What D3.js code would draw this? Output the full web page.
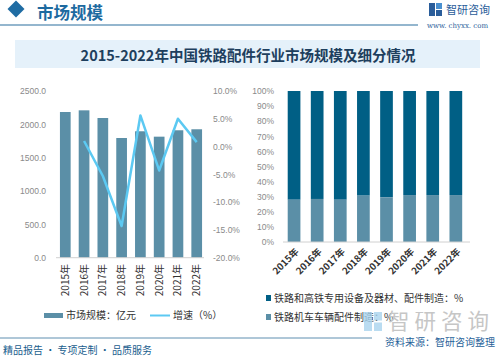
<!DOCTYPE html>
<html><head><meta charset="utf-8">
<script src="https://cdn.jsdelivr.net/npm/d3@7/dist/d3.min.js"></script>
<style>html,body{margin:0;padding:0;background:#fff;}svg{display:block;}</style>
</head><body>
<script>
const years = ["2015年","2016年","2017年","2018年","2019年","2020年","2021年","2022年"];
const marketSize = [2185, 2210, 2095, 1795, 1896, 1815, 1911, 1926];
const growth = [null, 1.0, -5.3, -14.3, 5.6, -4.3, 5.0, 0.8];
const shareParts = [28.0, 28.5, 28.0, 30.7, 29.6, 31.1, 31.1, 31.1];
const leftTicks = [0, 500, 1000, 1500, 2000, 2500];
const rightTicks = [-20, -15, -10, -5, 0, 5, 10];
const pctTicks = [0,10,20,30,40,50,60,70,80,90,100];
const title = "2015-2022年中国铁路配件行业市场规模及细分情况";
const legendLeft = ["市场规模：亿元", "增速（%）"];
const legendRight = ["铁路和高铁专用设备及器材、配件制造：%", "铁路机车车辆配件制造：%"];

const W = 500, H = 358;
const FONT = "'Noto Sans CJK SC','Noto Sans',sans-serif";
const svg = d3.select("body").append("svg").attr("width", W).attr("height", H)
  .style("font-family", FONT);

// header
svg.append("path").attr("d", "M16,0.5 L24.5,9 L16,17.5 L7.5,9 Z").attr("fill", "#1f6ca3");
svg.append("text").attr("x", 37).attr("y", 19).attr("font-size", 16.5).attr("font-weight", "bold")
  .attr("fill", "#1d6aa0").text("市场规模");
svg.append("line").attr("x1", 0).attr("x2", 418).attr("y1", 25).attr("y2", 25)
  .attr("stroke", "#2b6f9e").attr("stroke-width", 1.2);
// logo
const logo = svg.append("g").attr("fill", "#2a5d9a");
logo.append("rect").attr("x", 429).attr("y", 3).attr("width", 6).attr("height", 13);
logo.append("rect").attr("x", 436).attr("y", 3).attr("width", 6).attr("height", 6).attr("fill", "#4a90d0");
logo.append("rect").attr("x", 436).attr("y", 10).attr("width", 6).attr("height", 6);
svg.append("text").attr("x", 446).attr("y", 14).attr("font-size", 11).attr("fill", "#2a5d9a").text("智研咨询");
svg.append("text").attr("x", 427).attr("y", 28).attr("font-size", 7).attr("fill", "#2a5d9a")
  .attr("font-family", "'DejaVu Serif',serif").text("www. chyxx. com");

// title band
svg.append("rect").attr("x", 15).attr("y", 40).attr("width", 465).attr("height", 28).attr("fill", "#e5f1fa");
svg.append("text").attr("x", 248).attr("y", 61).attr("text-anchor", "middle").attr("font-size", 14.5)
  .attr("font-weight", "bold").attr("fill", "#1e3f5e").text(title);

// ---------- left chart ----------
const xL = d3.scalePoint().domain(years).range([55.9, 206.1]).padding(0.5);
const yL = d3.scaleLinear().domain([0, 2500]).range([257.7, 91]);
const yR = d3.scaleLinear().domain([-20, 10]).range([257.7, 91]);
const bwL = 10.7;

svg.append("g").selectAll("rect").data(marketSize).join("rect")
  .attr("x", (d, i) => xL(years[i]) - bwL / 2).attr("y", d => yL(d))
  .attr("width", bwL).attr("height", d => yL(0) - yL(d)).attr("fill", "#5b8fa7");

const axL = svg.append("g").attr("transform", "translate(46,0)")
  .call(d3.axisLeft(yL).tickValues(leftTicks).tickFormat(d3.format(".1f")).tickSize(0).tickPadding(0));
axL.select(".domain").remove();
axL.selectAll("text").attr("font-size", 8.5).attr("fill", "#8a8a8a").attr("font-family", "'Liberation Sans',Arial,sans-serif");

const axR = svg.append("g").attr("transform", "translate(213,0)")
  .call(d3.axisRight(yR).tickValues(rightTicks).tickFormat(d => d.toFixed(1) + "%").tickSize(0).tickPadding(0));
axR.select(".domain").remove();
axR.selectAll("text").attr("font-size", 8.5).attr("fill", "#8a8a8a").attr("font-family", "'Liberation Sans',Arial,sans-serif");

svg.append("line").attr("x1", 56).attr("x2", 204).attr("y1", yL(0)).attr("y2", yL(0))
  .attr("stroke", "#d0d0d0").attr("stroke-width", 1);

const gData = growth.map((g, i) => ({ y: years[i], g })).filter(d => d.g !== null);
svg.append("path").datum(gData)
  .attr("d", d3.line().x(d => xL(d.y)).y(d => yR(d.g)))
  .attr("fill", "none").attr("stroke", "#5cc9f2").attr("stroke-width", 2.5).attr("stroke-linejoin", "round");

svg.append("g").selectAll("text").data(years).join("text")
  .attr("transform", d => `translate(${xL(d)},264) rotate(-90)`)
  .attr("text-anchor", "end").attr("dy", "0.35em").attr("font-size", 10).attr("fill", "#333")
  .text(d => d);

// left legend
svg.append("rect").attr("x", 44).attr("y", 313).attr("width", 19).attr("height", 5).attr("fill", "#5b8fa7");
svg.append("text").attr("x", 66).attr("y", 319).attr("font-size", 10).attr("fill", "#333").text(legendLeft[0]);
svg.append("line").attr("x1", 150).attr("x2", 170).attr("y1", 315.5).attr("y2", 315.5)
  .attr("stroke", "#5cc9f2").attr("stroke-width", 2);
svg.append("text").attr("x", 173).attr("y", 319).attr("font-size", 10).attr("fill", "#333").text(legendLeft[1]);

// ---------- right chart ----------
const xP = d3.scalePoint().domain(years).range([282.5, 467.4]).padding(0.5);
const yP = d3.scaleLinear().domain([0, 100]).range([242, 91]);
const bwP = 12.7;

svg.append("g").selectAll("rect").data(shareParts).join("rect")
  .attr("x", (d, i) => xP(years[i]) - bwP / 2).attr("y", yP(100))
  .attr("width", bwP).attr("height", d => yP(d) - yP(100)).attr("fill", "#005f85");
svg.append("g").selectAll("rect").data(shareParts).join("rect")
  .attr("x", (d, i) => xP(years[i]) - bwP / 2).attr("y", d => yP(d))
  .attr("width", bwP).attr("height", d => yP(0) - yP(d)).attr("fill", "#5b8fa7");

const axP = svg.append("g").attr("transform", "translate(274,0)")
  .call(d3.axisLeft(yP).tickValues(pctTicks).tickFormat(d => d + "%").tickSize(0).tickPadding(0));
axP.select(".domain").remove();
axP.selectAll("text").attr("font-size", 8.5).attr("fill", "#8a8a8a").attr("font-family", "'Liberation Sans',Arial,sans-serif");

svg.append("line").attr("x1", 283).attr("x2", 470).attr("y1", yP(0)).attr("y2", yP(0))
  .attr("stroke", "#d0d0d0").attr("stroke-width", 1);

svg.append("g").selectAll("text").data(years).join("text")
  .attr("transform", d => `translate(${xP(d) + 3},250) rotate(-45)`)
  .attr("text-anchor", "end").attr("dy", "0.35em").attr("font-size", 9.5).attr("font-weight", "bold").attr("fill", "#333")
  .text(d => d);

// right legend
svg.append("rect").attr("x", 266).attr("y", 295).attr("width", 5).attr("height", 6).attr("fill", "#005f85");
svg.append("text").attr("x", 274).attr("y", 302).attr("font-size", 10).attr("fill", "#333").text(legendRight[0]);
svg.append("rect").attr("x", 266).attr("y", 314).attr("width", 5).attr("height", 6).attr("fill", "#5b8fa7");
svg.append("text").attr("x", 274).attr("y", 321).attr("font-size", 10).attr("fill", "#333").text(legendRight[1]);

// watermark
const wm = svg.append("g").attr("fill", "#a9d4ee").attr("opacity", 0.8);
wm.append("rect").attr("x", 364).attr("y", 312).attr("width", 8).attr("height", 19);
wm.append("rect").attr("x", 374).attr("y", 312).attr("width", 8).attr("height", 8.5);
wm.append("rect").attr("x", 374).attr("y", 322.5).attr("width", 8).attr("height", 8.5);
svg.append("text").attr("x", 388).attr("y", 329).attr("font-size", 21.5).attr("fill", "#c6c6c6")
  .attr("letter-spacing", 5).text("智研咨询");

// footer
svg.append("line").attr("x1", 0).attr("x2", 372).attr("y1", 338).attr("y2", 338)
  .attr("stroke", "#5f8fb0").attr("stroke-width", 1);
svg.append("text").attr("x", 385).attr("y", 346).attr("font-size", 10).attr("fill", "#1f5f99").text("资料来源：智研咨询整理");
svg.append("text").attr("x", 3).attr("y", 354).attr("font-size", 10).attr("fill", "#1a5e8e").text("精品报告 · 专项定制 · 品质服务");
</script>
</body></html>
